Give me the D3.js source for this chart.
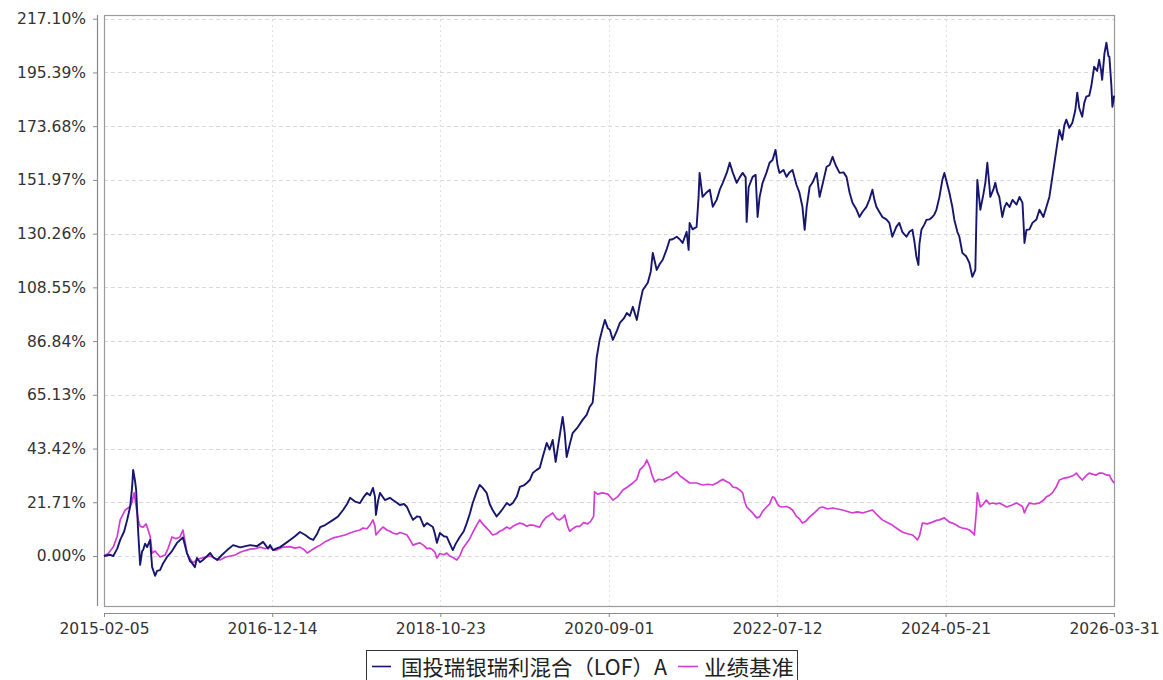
<!DOCTYPE html>
<html>
<head>
<meta charset="utf-8">
<script src="https://cdn.jsdelivr.net/npm/d3@7/dist/d3.min.js"></script>
<style>
  html, body { margin: 0; padding: 0; background: #fff; }
  svg { display: block; }
</style>
</head>
<body>
<svg id="chart" width="1163" height="680"></svg>
<script>
// ---------- data ----------
const xTickLabels = ["2015-02-05","2016-12-14","2018-10-23","2020-09-01","2022-07-12","2024-05-21","2026-03-31"];
const yTickValues = [0, 21.71, 43.42, 65.13, 86.84, 108.55, 130.26, 151.97, 173.68, 195.39, 217.10];
const yTickLabels = ["0.00%","21.71%","43.42%","65.13%","86.84%","108.55%","130.26%","151.97%","173.68%","195.39%","217.10%"];
const seriesNames = ["国投瑞银瑞利混合（LOF）A", "业绩基准"];

// fund: [decimal year, cumulative return %]
const fundData = [
[2015.096,0],[2015.165,0.5],[2015.198,0],[2015.242,3],[2015.275,6.5],[2015.319,10],[2015.352,14.6],[2015.385,20],[2015.407,28],[2015.418,34.8],
[2015.440,30],[2015.451,26.7],[2015.473,10],[2015.495,-3.6],[2015.517,2],[2015.528,2.4],[2015.550,5],[2015.572,3.6],[2015.605,6.5],[2015.627,-4.4],
[2015.660,-8],[2015.682,-6],[2015.715,-5.7],[2015.748,-3],[2015.792,-0.4],[2015.847,2],[2015.902,5.3],[2015.968,7.5],[2016.012,1.2],[2016.045,-2],
[2016.067,-2.8],[2016.100,-4.5],[2016.122,-0.8],[2016.155,-2.5],[2016.188,-1.6],[2016.235,0],[2016.268,1.2],[2016.301,-0.5],[2016.345,-1.6],[2016.400,0.5],
[2016.455,2.4],[2016.521,4.4],[2016.598,3.5],[2016.708,4.4],[2016.785,4],[2016.851,5.7],[2016.906,3],[2016.928,4.4],[2016.961,2.4],[2017.005,3.2],
[2017.038,3.6],[2017.093,5],[2017.148,6.5],[2017.203,8],[2017.258,9.7],[2017.316,8.5],[2017.371,7],[2017.404,6.5],[2017.448,9],[2017.481,11.7],
[2017.536,12.5],[2017.624,14.6],[2017.679,16],[2017.734,18.6],[2017.778,21],[2017.811,23.5],[2017.866,22],[2017.921,21.4],[2017.965,24],[2017.998,25.5],
[2018.031,24.5],[2018.064,27.5],[2018.086,24],[2018.097,16.6],[2018.119,22],[2018.141,25.5],[2018.196,22.6],[2018.251,23.5],[2018.284,22.6],[2018.328,21.5],
[2018.361,20.6],[2018.407,21],[2018.440,19.8],[2018.473,17],[2018.506,14.6],[2018.550,16],[2018.583,15.8],[2018.627,12],[2018.660,13.3],[2018.693,12.5],
[2018.726,11.7],[2018.748,9],[2018.770,5.3],[2018.803,9.3],[2018.847,8],[2018.880,7.7],[2018.913,5],[2018.946,2.4],[2018.979,5],[2019.023,7.7],
[2019.067,10],[2019.100,13.3],[2019.133,17],[2019.166,21.4],[2019.210,26],[2019.243,28.7],[2019.276,27.5],[2019.320,25.5],[2019.353,21],[2019.386,18.6],
[2019.430,16],[2019.463,17.4],[2019.496,19],[2019.543,21.4],[2019.576,20.5],[2019.609,21.4],[2019.653,24],[2019.686,27.9],[2019.730,28.5],[2019.763,29.5],
[2019.796,30.7],[2019.829,33.5],[2019.873,34.8],[2019.906,35.6],[2019.939,40],[2019.983,45.7],[2020.016,43],[2020.049,46.9],[2020.082,38],[2020.115,46],
[2020.159,56.2],[2020.181,50],[2020.203,40],[2020.236,45],[2020.269,49.7],[2020.324,52],[2020.379,55],[2020.423,57],[2020.456,60.2],[2020.489,61.9],
[2020.511,70],[2020.533,80],[2020.566,87.3],[2020.599,92],[2020.624,95.4],[2020.657,92],[2020.679,91.4],[2020.712,87.3],[2020.756,91],[2020.789,94.2],
[2020.833,96],[2020.866,98.2],[2020.899,97],[2020.932,100.7],[2020.976,95.4],[2021.009,102],[2021.042,107.5],[2021.097,110.4],[2021.130,115],[2021.152,122.5],
[2021.174,119],[2021.196,115.6],[2021.229,118],[2021.262,119.7],[2021.306,124],[2021.339,127.8],[2021.372,128],[2021.416,129],[2021.449,128],[2021.482,126.5],
[2021.526,131],[2021.548,123.7],[2021.559,134.6],[2021.592,132],[2021.636,133],[2021.658,145],[2021.669,154.8],[2021.702,145.1],[2021.749,147],[2021.782,148],
[2021.815,141.1],[2021.859,144],[2021.892,148],[2021.925,150.8],[2021.969,154.8],[2022.002,158.9],[2022.035,155],[2022.079,150.8],[2022.112,153],[2022.145,154.8],
[2022.178,153],[2022.189,135],[2022.211,149],[2022.255,153.2],[2022.288,154],[2022.310,137],[2022.332,145],[2022.365,150.8],[2022.409,155],[2022.442,158.9],
[2022.475,160],[2022.508,164.1],[2022.530,158],[2022.552,154.8],[2022.596,156],[2022.629,153.2],[2022.662,155],[2022.695,156],[2022.739,150],[2022.772,146.8],
[2022.805,141.1],[2022.830,131.8],[2022.852,141],[2022.885,149.2],[2022.918,151],[2022.962,154.8],[2022.995,145.1],[2023.039,152],[2023.072,157.3],[2023.105,158],
[2023.138,161.3],[2023.171,158],[2023.215,154.8],[2023.259,155],[2023.292,153.2],[2023.325,147],[2023.358,142.7],[2023.402,140],[2023.435,137],[2023.468,139],
[2023.512,141.1],[2023.545,144],[2023.578,148],[2023.600,144],[2023.622,141.1],[2023.655,139],[2023.688,137],[2023.732,136],[2023.765,134.6],[2023.798,129],
[2023.842,133],[2023.875,134.6],[2023.908,131],[2023.954,129],[2023.987,131],[2024.020,131.8],[2024.042,127],[2024.064,120.9],[2024.086,117.6],[2024.097,126],
[2024.119,131.8],[2024.152,134],[2024.174,135.8],[2024.207,136],[2024.240,137],[2024.262,138],[2024.284,139.9],[2024.317,145],[2024.350,152],[2024.372,154.8],
[2024.405,150],[2024.427,146.8],[2024.460,141],[2024.482,135.8],[2024.515,131],[2024.537,129],[2024.570,122.5],[2024.614,121],[2024.647,118.5],[2024.680,112.8],
[2024.713,115.6],[2024.724,135],[2024.735,152],[2024.768,139.9],[2024.801,146],[2024.823,150.8],[2024.845,158.9],[2024.867,150],[2024.878,145.1],[2024.911,148],
[2024.933,150.8],[2024.955,147],[2024.977,145.1],[2025.010,137],[2025.035,141],[2025.057,142.7],[2025.090,141],[2025.123,143.9],[2025.167,142],[2025.200,145.1],
[2025.233,142.7],[2025.244,135],[2025.255,126.5],[2025.277,131.8],[2025.310,132],[2025.343,134.6],[2025.387,136],[2025.420,139.9],[2025.464,137],[2025.497,141],
[2025.530,145.1],[2025.563,153.2],[2025.607,164.1],[2025.640,172.2],[2025.673,168.2],[2025.695,174],[2025.717,176.3],[2025.750,173],[2025.783,175],[2025.816,180],
[2025.838,187.2],[2025.860,181],[2025.893,177.5],[2025.915,183],[2025.937,185.6],[2025.970,186],[2025.992,189.6],[2026.025,197.7],[2026.058,196],[2026.080,200.5],
[2026.102,196],[2026.113,192.4],[2026.138,203],[2026.160,207.4],[2026.182,202],[2026.193,201.7],[2026.215,190],[2026.226,181.5],[2026.245,186]
];

// benchmark: [decimal year, cumulative return %]
const benchData = [
[2015.096,0],[2015.143,1],[2015.198,3.6],[2015.242,8],[2015.275,14.6],[2015.330,18.6],[2015.385,20],[2015.407,22],[2015.429,25.5],[2015.451,20],
[2015.473,14.6],[2015.495,12],[2015.528,11.7],[2015.561,13],[2015.583,10.5],[2015.605,8],[2015.627,1.2],[2015.660,2],[2015.715,-0.4],[2015.770,0.4],
[2015.803,3],[2015.847,7.7],[2015.891,7],[2015.935,7.7],[2015.968,10.5],[2015.990,6],[2016.012,1.2],[2016.045,-1],[2016.078,-2.8],[2016.122,-1.5],
[2016.155,-1],[2016.213,-0.5],[2016.268,0],[2016.323,-1],[2016.378,-1.6],[2016.433,-0.5],[2016.488,0],[2016.543,0.4],[2016.598,1.5],[2016.653,2.2],
[2016.708,2.8],[2016.763,3],[2016.818,3.6],[2016.873,3],[2016.928,3.6],[2016.961,2.4],[2017.005,2.5],[2017.071,3.6],[2017.148,3.8],[2017.203,3.2],
[2017.258,3.6],[2017.305,2.5],[2017.338,1.2],[2017.393,2.5],[2017.437,3.5],[2017.481,4.4],[2017.547,6],[2017.624,7.3],[2017.701,8],[2017.756,8.5],
[2017.811,9.3],[2017.866,10],[2017.921,10.5],[2017.954,11.3],[2017.998,11],[2018.031,12.5],[2018.064,14.6],[2018.086,12],[2018.097,8.5],[2018.130,10],
[2018.174,11.7],[2018.218,10.5],[2018.251,10],[2018.284,9.3],[2018.328,8.8],[2018.361,9.5],[2018.407,9],[2018.440,8.5],[2018.473,6.5],[2018.506,4.4],
[2018.550,5],[2018.583,5.3],[2018.627,4.2],[2018.660,3],[2018.693,3.2],[2018.726,2.4],[2018.748,1.5],[2018.770,-0.8],[2018.803,1],[2018.847,0.5],
[2018.880,1.2],[2018.913,0],[2018.957,-0.8],[2018.990,-1.6],[2019.023,0],[2019.056,3],[2019.100,5.3],[2019.133,7],[2019.166,9.5],[2019.210,12.5],
[2019.243,14.6],[2019.276,13],[2019.320,11.3],[2019.353,10],[2019.386,8.5],[2019.430,9],[2019.463,10],[2019.496,10.5],[2019.543,11.7],[2019.576,11],
[2019.609,12],[2019.653,12.8],[2019.686,13.3],[2019.719,13],[2019.763,12],[2019.796,12.5],[2019.829,12.5],[2019.873,12],[2019.906,11.7],[2019.939,14],
[2019.983,15.8],[2020.016,16.5],[2020.049,17.4],[2020.093,15],[2020.126,14.6],[2020.159,15.5],[2020.181,16.6],[2020.214,12],[2020.236,10],[2020.269,11],
[2020.313,12],[2020.346,12],[2020.390,13.5],[2020.434,13],[2020.467,14],[2020.500,16],[2020.511,25.9],[2020.544,25],[2020.599,25.5],[2020.657,25],
[2020.712,22.6],[2020.767,24],[2020.822,26.7],[2020.877,28],[2020.932,29.5],[2020.976,31],[2021.009,34.8],[2021.042,36],[2021.064,37],[2021.086,38.8],
[2021.119,36],[2021.141,33],[2021.174,29.9],[2021.218,31],[2021.262,30.7],[2021.306,31.5],[2021.339,32],[2021.372,33],[2021.416,34],[2021.449,32.5],
[2021.504,31],[2021.559,29.5],[2021.636,29.5],[2021.702,28.7],[2021.760,29],[2021.815,28.7],[2021.859,29.5],[2021.925,31],[2021.969,30],[2022.002,29.5],
[2022.035,27.9],[2022.079,27.5],[2022.112,26.7],[2022.145,25.5],[2022.167,22],[2022.189,19.8],[2022.222,18.6],[2022.255,17.4],[2022.299,15.4],[2022.332,15.8],
[2022.365,18],[2022.409,19.8],[2022.442,21],[2022.475,23.9],[2022.497,23.5],[2022.530,21],[2022.552,20],[2022.585,19.8],[2022.629,20],[2022.662,19.5],
[2022.695,18.6],[2022.739,16],[2022.772,15],[2022.805,13.3],[2022.841,14],[2022.885,15.8],[2022.940,17.5],[2022.995,19.5],[2023.028,19.8],[2023.083,19],
[2023.138,19.4],[2023.193,19],[2023.248,18.6],[2023.303,18],[2023.358,17.4],[2023.413,17.8],[2023.468,17.4],[2023.523,18],[2023.578,18.6],[2023.633,16.5],
[2023.688,14.6],[2023.743,13.5],[2023.798,12.5],[2023.853,11],[2023.908,9.7],[2023.965,9],[2024.020,8.5],[2024.064,7],[2024.075,6.5],[2024.097,8],
[2024.130,13.3],[2024.185,13],[2024.240,13.7],[2024.295,14.5],[2024.317,14.6],[2024.372,15.4],[2024.427,13.7],[2024.460,13.3],[2024.504,12.5],[2024.537,11.7],
[2024.570,11.3],[2024.614,11],[2024.647,10.5],[2024.680,9.5],[2024.702,8.5],[2024.724,18],[2024.735,25.5],[2024.768,19.8],[2024.801,21],[2024.834,22.6],
[2024.867,21],[2024.900,21.4],[2024.944,21],[2024.977,21.4],[2025.024,20.5],[2025.057,19.8],[2025.112,20.5],[2025.167,21.4],[2025.211,20.5],[2025.233,20],
[2025.255,17.4],[2025.277,19.5],[2025.310,21.4],[2025.365,21],[2025.420,21.4],[2025.464,22.5],[2025.497,23.9],[2025.530,24.5],[2025.563,25.5],[2025.607,28],
[2025.640,30.7],[2025.695,31.5],[2025.750,31.9],[2025.794,32.5],[2025.827,33.5],[2025.860,32],[2025.893,30.7],[2025.937,32.5],[2025.970,33.5],[2026.014,33],
[2026.047,32.7],[2026.080,33.5],[2026.113,33.5],[2026.160,32.7],[2026.193,32.7],[2026.215,31],[2026.245,29.5]
];

// ---------- helpers ----------
function yearToDate(t) {
  const y = Math.floor(t);
  const s = Date.UTC(y, 0, 1), e = Date.UTC(y + 1, 0, 1);
  return new Date(s + (t - y) * (e - s));
}
const parse = d3.utcParse("%Y-%m-%d");
const xTicks = xTickLabels.map(parse);

// ---------- layout ----------
const svg = d3.select("#chart");
const plot = { left: 104, right: 1114, top: 15, bottom: 606 };

const x = d3.scaleUtc()
  .domain([xTicks[0], xTicks[xTicks.length - 1]])
  .range([plot.left, plot.right]);

const y = d3.scaleLinear()
  .domain([-20.2, 218.6])
  .range([plot.bottom, plot.top]);

svg.append("rect").attr("width", 1163).attr("height", 680).attr("fill", "#fff");

// grid
const grid = svg.append("g");
grid.selectAll("line.h").data(yTickValues).join("line")
  .attr("x1", plot.left).attr("x2", plot.right)
  .attr("y1", d => Math.round(y(d)) + 0.5).attr("y2", d => Math.round(y(d)) + 0.5)
  .attr("stroke", "#d9d9d9").attr("stroke-dasharray", "4,3").attr("stroke-width", 1);
grid.selectAll("line.v").data(xTicks.slice(1, -1)).join("line")
  .attr("x1", d => Math.round(x(d)) + 0.5).attr("x2", d => Math.round(x(d)) + 0.5)
  .attr("y1", plot.top).attr("y2", plot.bottom)
  .attr("stroke", "#e0e0e8").attr("stroke-dasharray", "2,3").attr("stroke-width", 1);

// plot border
svg.append("rect")
  .attr("x", plot.left + 0.5).attr("y", plot.top + 0.5)
  .attr("width", plot.right - plot.left).attr("height", plot.bottom - plot.top)
  .attr("fill", "none").attr("stroke", "#9a9a9a").attr("stroke-width", 1.2);

// y axis
const yAxis = d3.axisLeft(y)
  .tickValues(yTickValues)
  .tickFormat((d, i) => yTickLabels[i])
  .tickSizeInner(4).tickSizeOuter(0).tickPadding(7);
const gy = svg.append("g").attr("transform", "translate(97,0)").call(yAxis);
gy.select(".domain").attr("d", `M0.5,${plot.top}V${plot.bottom}`).attr("stroke", "#8a8a8a").attr("stroke-width", 1.2);
gy.selectAll(".tick line").attr("stroke", "#8a8a8a");
gy.selectAll(".tick text").attr("fill", "#333").style("font-family", "'DejaVu Sans', Verdana, sans-serif").style("font-size", "15.5px");

// x axis
const xAxis = d3.axisBottom(x)
  .tickValues(xTicks)
  .tickFormat((d, i) => xTickLabels[i])
  .tickSizeInner(4).tickSizeOuter(0).tickPadding(6);
const gx = svg.append("g").attr("transform", "translate(0,613)").call(xAxis);
gx.select(".domain").attr("d", `M${plot.left},0.5H${plot.right + 1}`).attr("stroke", "#8a8a8a").attr("stroke-width", 1.2);
gx.selectAll(".tick line").attr("stroke", "#8a8a8a");
gx.selectAll(".tick text").attr("fill", "#333").style("font-family", "'DejaVu Sans', Verdana, sans-serif").style("font-size", "15.5px");

// lines
const line = d3.line()
  .x(d => x(yearToDate(d[0])))
  .y(d => y(d[1]));

const colors = ["#16166e", "#d23cd2"];

svg.append("path").datum(benchData)
  .attr("d", line).attr("fill", "none")
  .attr("stroke", colors[1]).attr("stroke-width", 1.7).attr("stroke-linejoin", "round");
svg.append("path").datum(fundData)
  .attr("d", line).attr("fill", "none")
  .attr("stroke", colors[0]).attr("stroke-width", 1.9).attr("stroke-linejoin", "round");

// legend
const lg = svg.append("g");
lg.append("rect").attr("x", 366.5).attr("y", 650.5).attr("width", 431).attr("height", 40)
  .attr("fill", "#fff").attr("stroke", "#333").attr("stroke-width", 1);
const legendItems = [
  { name: seriesNames[0], color: colors[0], lx: 372, lw: 19, tx: 401, tw: 266 },
  { name: seriesNames[1], color: colors[1], lx: 678, lw: 20, tx: 704, tw: 90 }
];
legendItems.forEach(it => {
  lg.append("line").attr("x1", it.lx).attr("x2", it.lx + it.lw).attr("y1", 666.5).attr("y2", 666.5)
    .attr("stroke", it.color).attr("stroke-width", 1.6);
  lg.append("text").attr("x", it.tx).attr("y", 675)
    .attr("fill", "#222")
    .attr("textLength", it.tw).attr("lengthAdjust", "spacingAndGlyphs")
    .style("font-family", "'Noto Sans CJK SC', sans-serif").style("font-size", "21px")
    .text(it.name);
});
</script>
</body>
</html>
